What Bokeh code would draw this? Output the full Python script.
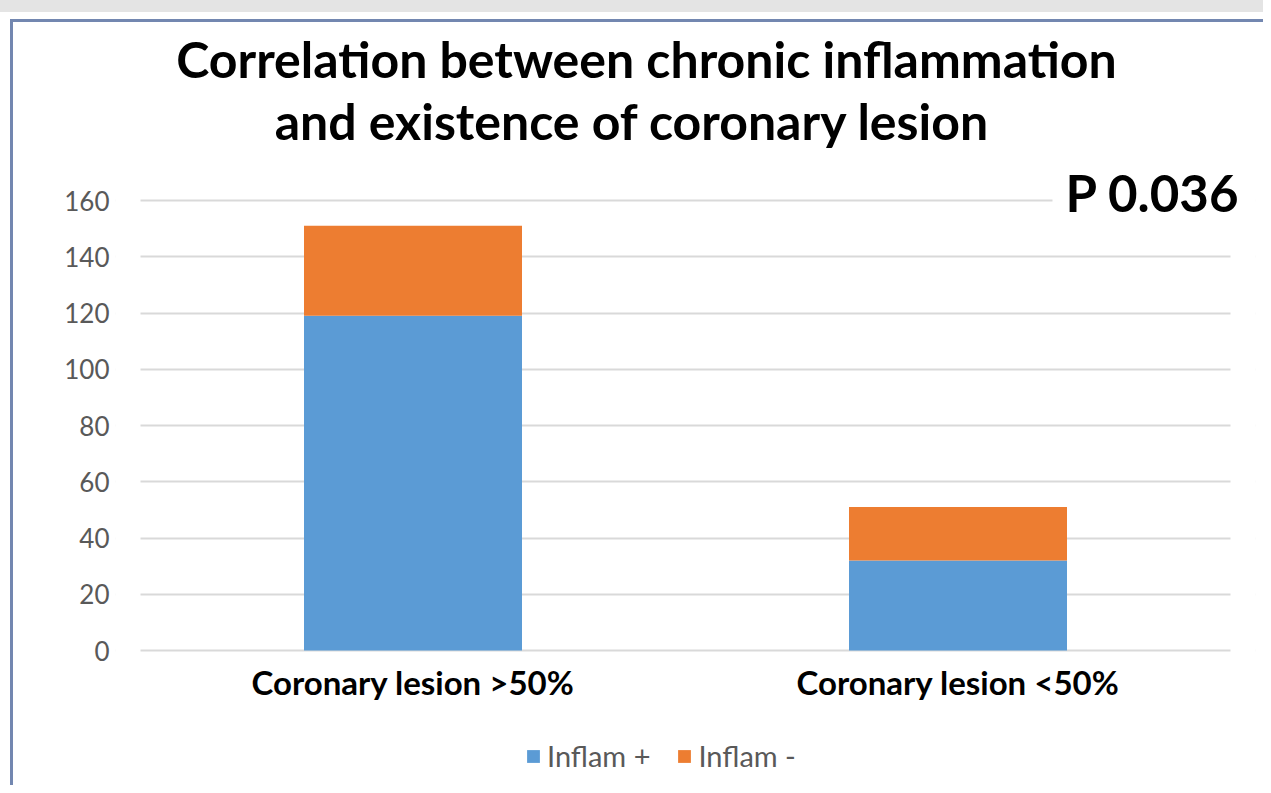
from bokeh.plotting import figure
from bokeh.models import (FactorRange, Range1d, FixedTicker, Label, Legend, LegendItem,
                          BoxAnnotation)
from bokeh.embed import file_html
from bokeh.resources import INLINE

categories = ["Coronary lesion >50%", "Coronary lesion <50%"]
inflam_pos = [119, 32]
inflam_neg = [32, 19]
series_names = ["Inflam +", "Inflam -"]
y_ticks = [0, 20, 40, 60, 80, 100, 120, 140, 160]
title_lines = ["Correlation between chronic inflammation", "and existence of coronary lesion"]
p_value_text = "P 0.036"

colors = ["#5B9BD5", "#ED7D31"]
FONT = "Lato"

W, H = 1263, 785
GRID_L, GRID_R = 140, 1230      # gridline extent (px)
PAD_PX = 25                     # frame extends this far beyond gridlines on each side
FRAME_L = GRID_L - PAD_PX
Y0_PX, Y160_PX = 650, 200
ppu = (Y0_PX - Y160_PX) / 160.0
y_start = -(H - Y0_PX) / ppu
y_end = Y0_PX / ppu
cat_px = (GRID_R - GRID_L) / 2.0

def yd(py):
    """pixel row -> data y"""
    return (Y0_PX - py) / ppu

p = figure(width=W, height=H,
           x_range=FactorRange(*categories, range_padding=PAD_PX / cat_px, range_padding_units="absolute"),
           y_range=Range1d(y_start, y_end),
           output_backend="svg", toolbar_location=None,
           min_border_left=FRAME_L, min_border_right=W - GRID_R - PAD_PX,
           min_border_top=0, min_border_bottom=0)
p.background_fill_alpha = 0
p.border_fill_alpha = 0
p.outline_line_color = None
p.styles = {
    "background": ("linear-gradient(#e4e4e4,#e4e4e4) 0 0/100% 12px no-repeat, "
                   "linear-gradient(#7387b0,#7387b0) 10px 19px/3px 100% no-repeat, "
                   "linear-gradient(#7387b0,#7387b0) 10px 19px/100% 3px no-repeat, white")
}

data = dict(cat=categories, pos=inflam_pos, neg=inflam_neg)
rs = p.vbar_stack(["pos", "neg"], x="cat", width=0.4, color=colors, source=data, line_color=None)

p.xgrid.grid_line_color = None
p.ygrid.grid_line_color = "#d9d9d9"
p.ygrid.grid_line_width = 2
p.yaxis.ticker = FixedTicker(ticks=y_ticks)
p.yaxis.axis_line_color = None
p.yaxis.major_tick_line_color = None
p.yaxis.minor_tick_line_color = None
p.yaxis.major_label_text_font = FONT
p.yaxis.major_label_text_font_size = "26px"
p.yaxis.major_label_text_color = "#595959"
p.yaxis.major_label_standoff = 0

p.xaxis.fixed_location = 0
p.xaxis.axis_line_color = None
p.xaxis.major_tick_line_color = None
p.xaxis.minor_tick_line_color = None
p.xaxis.major_label_text_font = FONT
p.xaxis.major_label_text_font_style = "bold"
p.xaxis.major_label_text_font_size = "33px"
p.xaxis.major_label_text_color = "black"
p.xaxis.major_label_standoff = 5

# trim gridlines to GRID_L..GRID_R, and open a gap in the 160 gridline for the p-value
box_kw = dict(left_units="screen", right_units="screen", fill_color="white", fill_alpha=1, line_color=None)
p.add_layout(BoxAnnotation(left=-5, right=PAD_PX, top=yd(185), bottom=yd(665), **box_kw))
p.add_layout(BoxAnnotation(left=GRID_R - FRAME_L, right=W, top=yd(185), bottom=yd(665), **box_kw))
p.add_layout(BoxAnnotation(left=1052 - FRAME_L, right=W, top=yd(190), bottom=yd(210), **box_kw))

# text labels: x in px from frame left, y via data scale (baseline, corrected for renderer offset)
def lab(text, cx, base_py, size, align):
    return Label(x=cx - FRAME_L, y=yd(base_py - 0.4 * size), x_units="screen", text=text,
                 text_font=FONT, text_font_style="bold", text_font_size=f"{size}px",
                 text_align=align, text_baseline="alphabetic", text_color="black")

p.add_layout(lab(title_lines[0], 646, 78, 50, "center"))
p.add_layout(lab(title_lines[1], 632, 140, 50, "center"))
p.add_layout(lab(p_value_text, 1065, 212, 51, "left"))

legend = Legend(items=[LegendItem(label=series_names[i], renderers=[rs[i]]) for i in range(2)],
                orientation="horizontal", location=(525 - FRAME_L, 12),
                label_text_font=FONT, label_text_font_size="29px", label_text_color="#595959",
                glyph_width=16, glyph_height=16, label_standoff=6, spacing=26,
                padding=0, margin=0, border_line_color=None, background_fill_alpha=0)
p.add_layout(legend, "center")

open("out.html", "w").write(file_html(p, INLINE))
